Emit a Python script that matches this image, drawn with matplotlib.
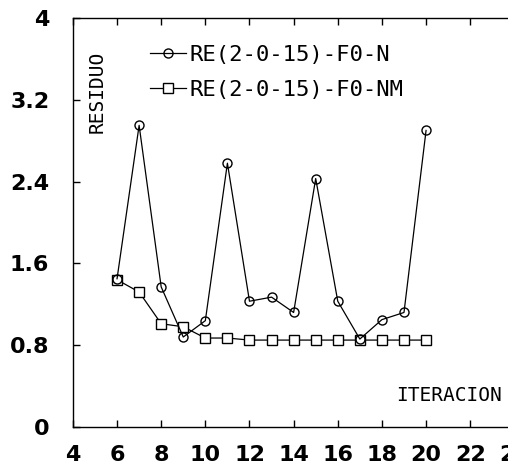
import matplotlib.pyplot as plt

# iteration numbers and residuals
iter_n = [6, 7, 8, 9, 10, 11, 12, 13, 14, 15, 16, 17, 18, 19, 20]
res_n = [1.45, 2.95, 1.37, 0.88, 1.04, 2.58, 1.23, 1.27, 1.12, 2.43, 1.23, 0.86, 1.05, 1.12, 2.90]

iter_nm = [6, 7, 8, 9, 10, 11, 12, 13, 14, 15, 16, 17, 18, 19, 20]
res_nm = [1.44, 1.32, 1.01, 0.98, 0.87, 0.87, 0.85, 0.85, 0.85, 0.85, 0.85, 0.85, 0.85, 0.85, 0.85]

xticks = [4, 6, 8, 10, 12, 14, 16, 18, 20, 22, 24]
yticks = [0, 0.8, 1.6, 2.4, 3.2, 4]
ytick_labels = ["0", "0.8", "1.6", "2.4", "3.2", "4"]

fig = plt.figure(figsize=(5.08, 4.66), dpi=100)
ax = fig.add_axes([0.1435, 0.0837, 0.869, 0.8777])

ax.plot(iter_nm, res_nm, color="black", lw=0.9, marker="s", ms=6.5,
        mfc="white", mec="black", mew=1, label="RE(2-0-15)-F0-NM")
ax.plot(iter_n, res_n, color="black", lw=0.9, marker="o", ms=6.5,
        mfc="none", mec="black", mew=1, label="RE(2-0-15)-F0-N")

ax.set_xlim(4, 24)
ax.set_ylim(0, 4)
ax.set_xticks(xticks)
ax.set_yticks(yticks)
ax.set_yticklabels(ytick_labels)
ax.tick_params(direction="in", length=5, width=1, labelsize=16)
ax.tick_params(axis="x", pad=13)
ax.tick_params(axis="y", pad=17)
for lab in ax.get_xticklabels() + ax.get_yticklabels():
    lab.set_fontweight("bold")

ax.spines["right"].set_visible(False)
for s in ["left", "bottom", "top"]:
    ax.spines[s].set_linewidth(1)
ax.tick_params(top=True)

ax.text(0.055, 0.82, "RESIDUO", transform=ax.transAxes, rotation=90,
        ha="center", va="center", fontsize=14, family="DejaVu Sans Mono")
ax.text(0.972, 0.076, "ITERACION", transform=ax.transAxes,
        ha="right", va="center", fontsize=14, family="DejaVu Sans Mono")

h, l = ax.get_legend_handles_labels()
ax.legend(h[::-1], l[::-1], loc="upper left", bbox_to_anchor=(0.175, 0.935),
          frameon=False, prop={"family": "DejaVu Sans Mono", "size": 16},
          labelspacing=0.68, handlelength=1.6, handletextpad=0.15,
          borderaxespad=0, borderpad=0)

fig.savefig("out.png", dpi=100)
